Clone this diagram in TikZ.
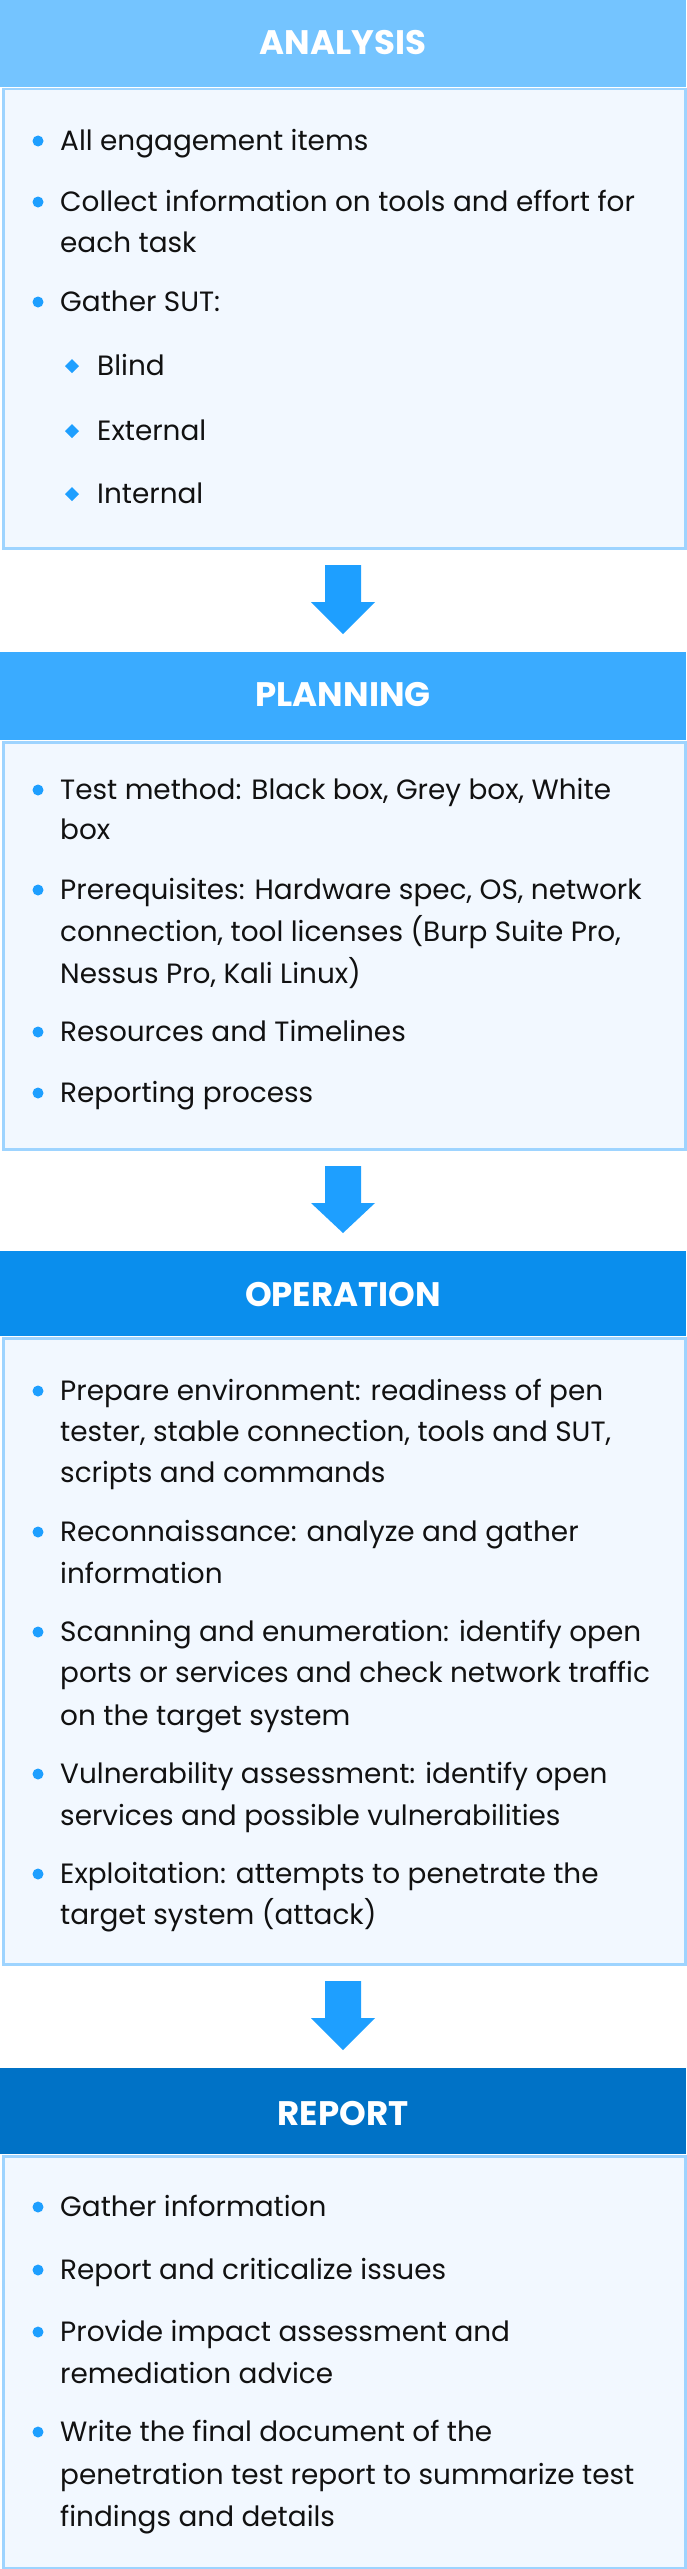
\documentclass[tikz,border=0pt]{standalone}
\usepackage{fontspec}
\setmainfont{Poppins}
\definecolor{hA}{HTML}{74C4FF}
\definecolor{hB}{HTML}{3AABFF}
\definecolor{hC}{HTML}{0A8EED}
\definecolor{hD}{HTML}{0072C6}
\definecolor{bodyfill}{HTML}{F2F8FF}
\definecolor{bodyline}{HTML}{9ED4FF}
\definecolor{arrowc}{HTML}{1E9FFF}
\definecolor{txt}{HTML}{111111}
\tikzset{
  bodybox/.style={fill=bodyfill, draw=bodyline, line width=2.5pt},
  htext/.style={text=white, font=\fontsize{34}{40}\selectfont\bfseries, anchor=center},
  ltext/.style={text=txt, font=\fontsize{27.9}{33}\selectfont, anchor=base west, inner sep=0pt},
  dotb/.style={circle, fill=arrowc, inner sep=0pt, minimum size=11pt}
}
\newcommand{\lineT}[3]{\node[ltext] (#1) at (60,#2+9.5) {#3};}
\newcommand{\dotL}[2]{\node[dotb] (#1) at (38,#2) {};}
\newcommand{\subL}[3]{\node[ltext] (#1) at (97,#2+9.5) {#3};
  \fill[arrowc] (72,#2-7) -- (79,#2) -- (72,#2+7) -- (65,#2) -- cycle;}
\newcommand{\flowarrow}[2]{\fill[arrowc] (325,#1) -- (361,#1) -- (361,#1+37) -- (375,#1+37) -- (343,#2) -- (311,#1+37) -- (325,#1+37) -- cycle;}
\begin{document}
\begin{tikzpicture}[x=1pt,y=-1pt]
\useasboundingbox (0,0) rectangle (686,2569);
% ANALYSIS
\fill[hA] (0,0) rectangle (686,87);
\node[bodybox, minimum width=682pt, minimum height=459pt, anchor=north west] (b1) at (2,88) {};
\node[htext] (h1) at (343,43) {ANALYSIS};
\dotL{d11}{141}\lineT{t11}{141}{All engagement items}
\dotL{d12}{202}\lineT{t12}{202}{Collect information on tools and effort for}
\lineT{t12b}{243}{each task}
\dotL{d13}{302}\lineT{t13}{302}{Gather SUT:}
\subL{s1}{366}{Blind}
\subL{s2}{431}{External}
\subL{s3}{494}{Internal}
\flowarrow{565}{634}
% PLANNING
\fill[hB] (0,652) rectangle (686,740);
\node[bodybox, minimum width=682pt, minimum height=407pt, anchor=north west] (b2) at (2,741) {};
\node[htext] (h2) at (343,695) {PLANNING};
\dotL{d21}{790}\lineT{t21}{790}{Test method: Black box, Grey box, White}
\lineT{t21b}{830}{box}
\dotL{d22}{890}\lineT{t22}{890}{Prerequisites: Hardware spec, OS, network}
\lineT{t22b}{932}{connection, tool licenses (Burp Suite Pro,}
\lineT{t22c}{974}{Nessus Pro, Kali Linux)}
\dotL{d23}{1032}\lineT{t23}{1032}{Resources and Timelines}
\dotL{d24}{1093}\lineT{t24}{1093}{Reporting process}
\flowarrow{1166}{1233}
% OPERATION
\fill[hC] (0,1251) rectangle (686,1336);
\node[bodybox, minimum width=682pt, minimum height=626pt, anchor=north west] (b3) at (2,1337) {};
\node[htext] (h3) at (343,1294) {OPERATION};
\dotL{d31}{1391}\lineT{t31}{1391}{Prepare environment: readiness of pen}
\lineT{t31b}{1432}{tester, stable connection, tools and SUT,}
\lineT{t31c}{1473}{scripts and commands}
\dotL{d32}{1532}\lineT{t32}{1532}{Reconnaissance: analyze and gather}
\lineT{t32b}{1574}{information}
\dotL{d33}{1632}\lineT{t33}{1632}{Scanning and enumeration: identify open}
\lineT{t33b}{1673}{ports or services and check network traffic}
\lineT{t33c}{1716}{on the target system}
\dotL{d34}{1774}\lineT{t34}{1774}{Vulnerability assessment: identify open}
\lineT{t34b}{1816}{services and possible vulnerabilities}
\dotL{d35}{1874}\lineT{t35}{1874}{Exploitation: attempts to penetrate the}
\lineT{t35b}{1915}{target system (attack)}
\flowarrow{1981}{2050}
% REPORT
\fill[hD] (0,2068) rectangle (686,2154);
\node[bodybox, minimum width=682pt, minimum height=412pt, anchor=north west] (b4) at (2,2155) {};
\node[htext] (h4) at (343,2113) {REPORT};
\dotL{d41}{2207}\lineT{t41}{2207}{Gather information}
\dotL{d42}{2270}\lineT{t42}{2270}{Report and criticalize issues}
\dotL{d43}{2332}\lineT{t43}{2332}{Provide impact assessment and}
\lineT{t43b}{2374}{remediation advice}
\dotL{d44}{2432}\lineT{t44}{2432}{Write the final document of the}
\lineT{t44b}{2475}{penetration test report to summarize test}
\lineT{t44c}{2517}{findings and details}
\end{tikzpicture}
\end{document}
